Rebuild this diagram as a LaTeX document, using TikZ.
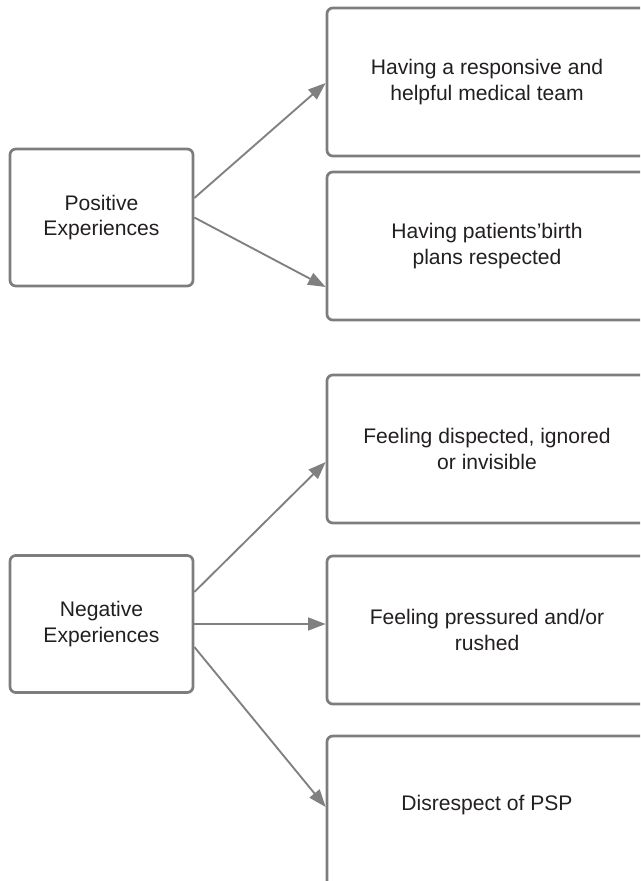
\documentclass[tikz,border=0pt]{standalone}
\usepackage{fontspec}
\setmainfont{Liberation Sans}
\usepackage{tikz}
\usetikzlibrary{arrows.meta,calc,positioning}
\definecolor{expLine}{HTML}{7D7D7F}
\definecolor{expArrow}{HTML}{808082}
\definecolor{expText}{HTML}{231F20}

\begin{document}
\begin{tikzpicture}[x=0.03cm,y=-0.03cm,
    every node/.style={font=\fontsize{18}{21.5}\selectfont, text=expText, align=center},
    catbox/.style={draw=expLine, line width=2.3pt, rounded corners=5pt, minimum width=5.49cm, minimum height=4.11cm},
    themebox/.style={draw=expLine, line width=2.3pt, rounded corners=5pt, minimum width=9.6cm, minimum height=4.44cm},
    themearrow/.style={draw=expArrow, line width=1.6pt, -{Triangle[length=15pt,width=11pt]}}]
    \useasboundingbox (0,0) rectangle (640,881);
    \clip (0,0) rectangle (640,881);
    % categories
    \node[catbox] (pos) at (101.5,217.5) {Positive\\Experiences};
    \node[catbox] (neg) at (101.5,624) {Negative\\Experiences};
    % themes
    \node[themebox] (resp) at (487,82) {Having a responsive and\\helpful medical team};
    \node[themebox] (plan) at (487,246) {Having patients'birth\\plans respected};
    \node[themebox] (ignr) at (487,449) {Feeling dispected, ignored\\or invisible};
    \node[themebox] (rush) at (487,630) {Feeling pressured and/or\\rushed};
    \node[themebox, minimum height=4.56cm, text depth=0.55cm] (psp) at (487,812) {Disrespect of PSP};
    % arrows
    \draw[themearrow] ($(pos.east)+(0,-19.5)$) -- ($(resp.west)+(0,1)$);
    \draw[themearrow] (pos.east) -- ($(plan.west)+(0,41)$);
    \draw[themearrow] ($(neg.east)+(0,-32)$) -- ($(ignr.west)+(0,13)$);
    \draw[themearrow] (neg.east) -- (neg.east -| rush.west);
    \draw[themearrow] ($(neg.east)+(0,23)$) -- ($(psp.west)+(0,-5)$);
\end{tikzpicture}
\end{document}
